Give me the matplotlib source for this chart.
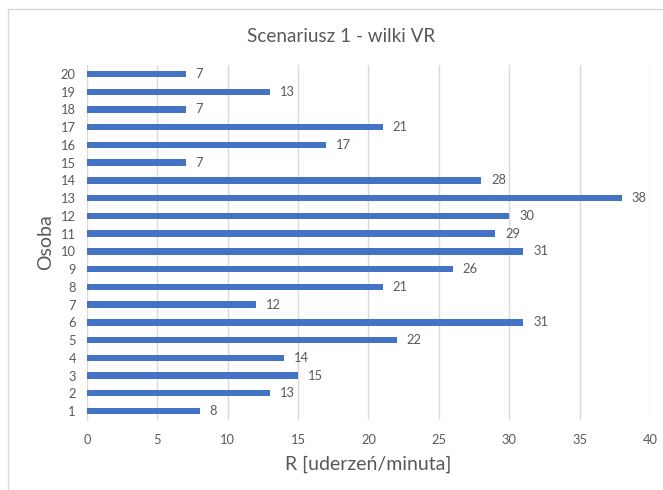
import matplotlib
matplotlib.use("Agg")
import matplotlib.pyplot as plt
from matplotlib.patches import Rectangle

osoby = list(range(1, 21))
wartosci = [8, 13, 15, 14, 22, 31, 12, 21, 26, 31, 29, 30, 38, 28, 7, 17, 21, 7, 13, 7]
x_ticks = [0, 5, 10, 15, 20, 25, 30, 35, 40]

plt.rcParams['font.family'] = ['Lato', 'DejaVu Sans']
text_col = '#595959'
bar_col = '#4472C4'
grid_col = '#D9D9D9'

fig = plt.figure(figsize=(6.63, 4.90), dpi=100)
ax = fig.add_axes([0.1312, 0.1431, 0.8492, 0.7240])

# chart frame (top and left edges fall inside the image)
fig.patches.append(Rectangle((8 / 663, -0.05), 1.2, 1 - 9 / 490 + 0.05,
                             transform=fig.transFigure, fill=False,
                             edgecolor='#D9D9D9', linewidth=1.0))

bars = ax.barh(osoby, wartosci, height=0.36, color=bar_col, zorder=3)
for y, v in zip(osoby, wartosci):
    ax.text(v + 0.7, y, str(v), va='center', ha='left', fontsize=9.3,
            color=text_col)

ax.set_xlim(0, 40)
ax.set_ylim(0.5, 20.5)
ax.set_xticks(x_ticks)
ax.set_yticks(osoby)
ax.tick_params(axis='both', length=0, labelsize=9.3, labelcolor=text_col)
ax.tick_params(axis='x', pad=10)
ax.tick_params(axis='y', pad=8)
ax.grid(axis='x', color=grid_col, linewidth=1.0, zorder=0)
for s in ['top', 'right', 'bottom']:
    ax.spines[s].set_visible(False)
ax.spines['left'].set_color(grid_col)

ax.set_xlabel('R [uderzeń/minuta]', fontsize=14, color=text_col, labelpad=7)
ax.set_ylabel('Osoba', fontsize=14, color=text_col, labelpad=5)
fig.text(0.514, 0.925, 'Scenariusz 1 - wilki VR', ha='center', va='center',
         fontsize=13.6, color=text_col)

fig.savefig('out.png', dpi=100)
